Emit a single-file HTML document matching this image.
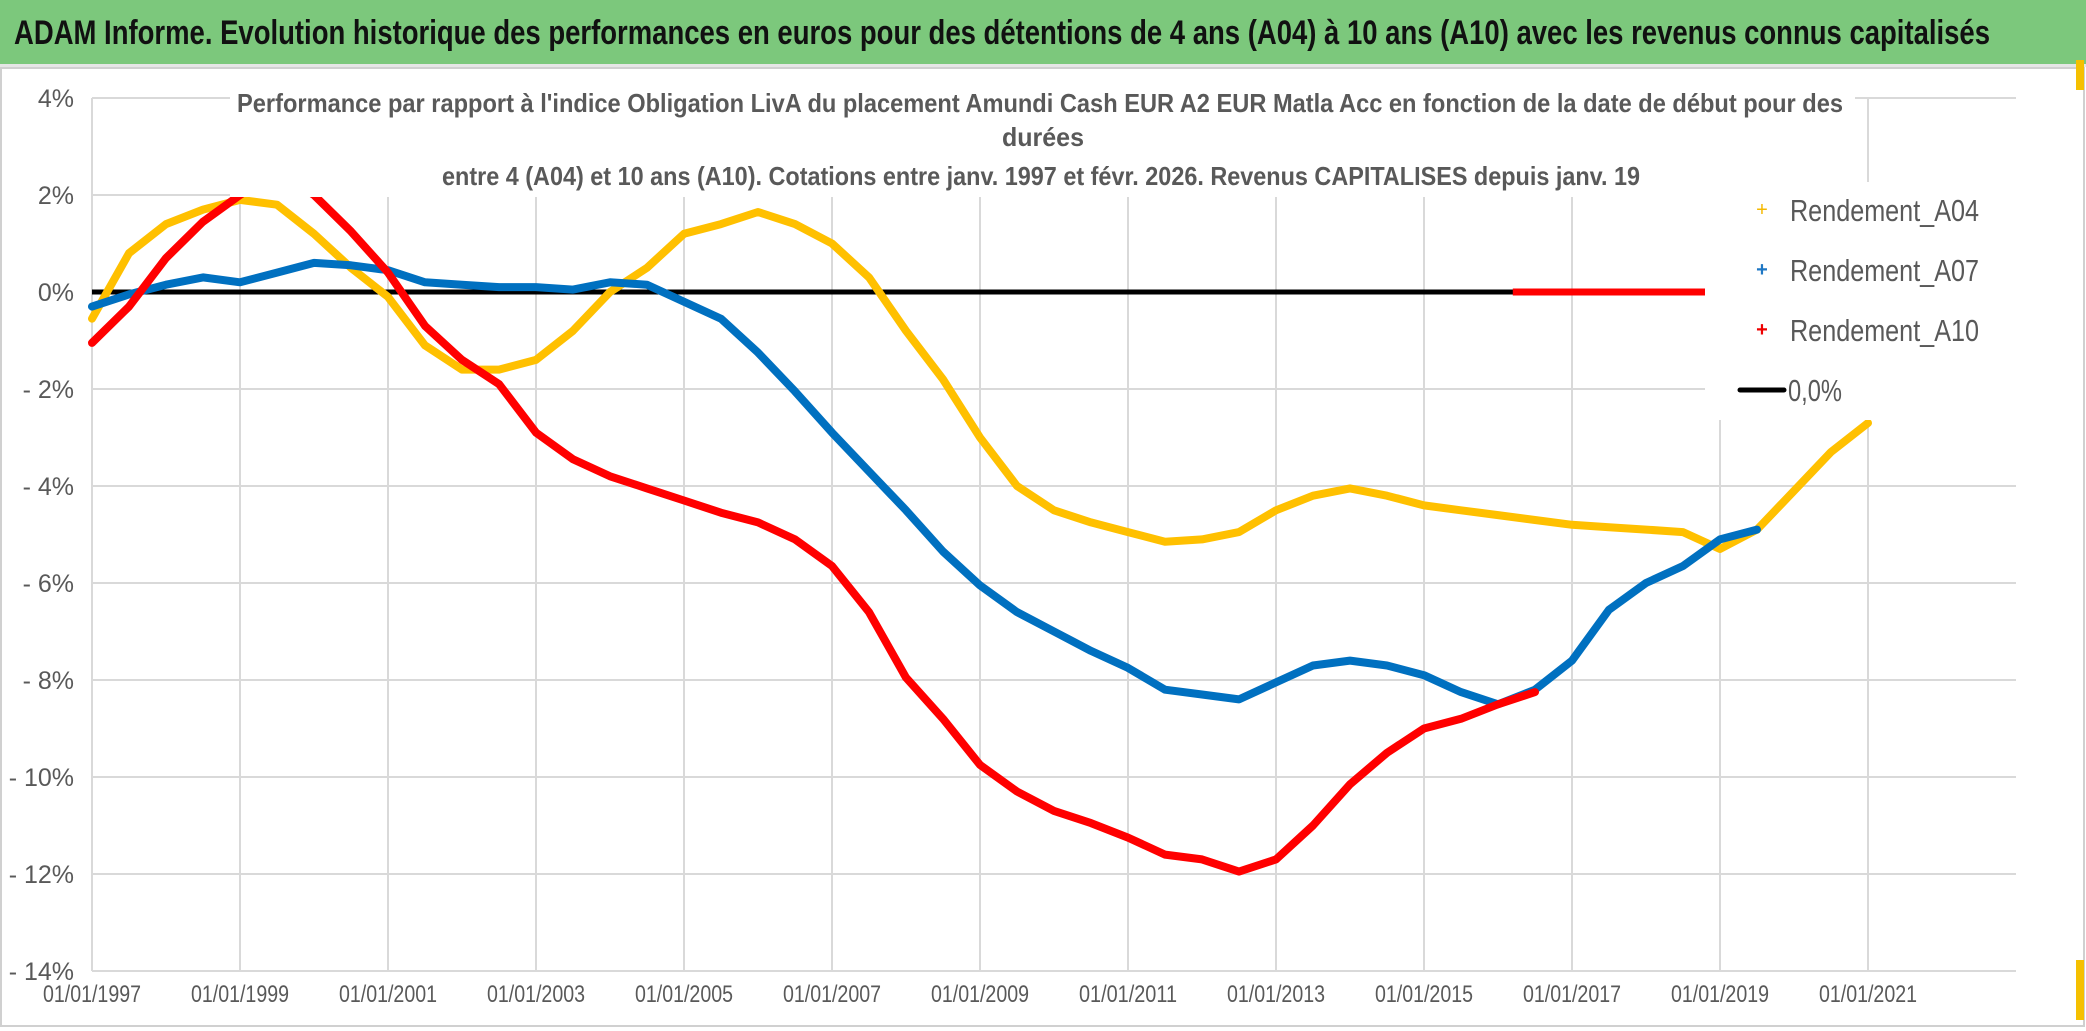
<!DOCTYPE html>
<html><head><meta charset="utf-8"><style>
html,body{margin:0;padding:0;background:#fff;}
svg{display:block;font-family:"Liberation Sans Narrow","Liberation Sans",sans-serif;}
</style></head><body>
<svg id="chart" width="2086" height="1031" viewBox="0 0 2086 1031" xmlns="http://www.w3.org/2000/svg">
<rect x="0" y="0" width="2086" height="1031" fill="#fff"/>
<rect x="0" y="0" width="2086" height="66" fill="#7cc87c"/>
<rect x="0" y="64" width="2086" height="3" fill="#e6e6e6"/>
<rect x="1" y="68" width="2083" height="958" fill="none" stroke="#d0d0d0" stroke-width="2"/>
<rect x="2076" y="60" width="8" height="30" fill="#f5c000"/>
<rect x="2076" y="960" width="8" height="60" fill="#f5c000"/>
<text x="14" y="44" font-size="34" font-weight="bold" fill="#111" textLength="1976" lengthAdjust="spacingAndGlyphs">ADAM Informe. Evolution historique des performances en euros pour des détentions de 4 ans (A04) à 10 ans (A10) avec les revenus connus capitalisés</text>
<g id="grid"></g>
<g id="axes"></g>
<g id="series"></g>
<rect x="230" y="80" width="1625" height="117" fill="#fff"/>
<g fill="#595959" font-weight="bold" font-size="26">
<text x="237" y="112" textLength="1606" lengthAdjust="spacingAndGlyphs">Performance par rapport à l'indice Obligation LivA  du placement Amundi Cash EUR A2 EUR Matla Acc en fonction de la date de début pour des</text>
<text x="1002" y="146" textLength="82" lengthAdjust="spacingAndGlyphs">durées</text>
<text x="442" y="185" textLength="1198" lengthAdjust="spacingAndGlyphs">entre 4 (A04) et 10 ans (A10). Cotations entre janv. 1997 et févr. 2026. Revenus CAPITALISES depuis janv. 19</text>
</g>
<g>
<rect x="1705" y="182" width="316" height="238" fill="#fff"/>
<g>
<text x="1762" y="216" font-size="20" fill="#f5b800" text-anchor="middle">+</text>
<text x="1790" y="221" font-size="31" fill="#595959" textLength="189" lengthAdjust="spacingAndGlyphs">Rendement_A04</text></g>
<g>
<text x="1762" y="276" font-size="20" fill="#1f77c4" font-weight="bold" text-anchor="middle">+</text>
<text x="1790" y="281" font-size="31" fill="#595959" textLength="189" lengthAdjust="spacingAndGlyphs">Rendement_A07</text></g>
<g>
<text x="1762" y="336" font-size="20" fill="#e00" font-weight="bold" text-anchor="middle">+</text>
<text x="1790" y="341" font-size="31" fill="#595959" textLength="189" lengthAdjust="spacingAndGlyphs">Rendement_A10</text></g>
<g>
<line x1="1740" y1="390" x2="1784" y2="390" stroke="#000" stroke-width="5" stroke-linecap="round"/>
<text x="1788" y="401" font-size="31" fill="#595959" textLength="54" lengthAdjust="spacingAndGlyphs">0,0%</text></g>
</g>
</svg>
<script>
const yTicks = [4, 2, 0, -2, -4, -6, -8, -10, -12, -14];
const yTickLabels = ['4%', '2%', '0%', '- 2%', '- 4%', '- 6%', '- 8%', '- 10%', '- 12%', '- 14%'];
const xTickYears = [1997, 1999, 2001, 2003, 2005, 2007, 2009, 2011, 2013, 2015, 2017, 2019, 2021];
const xTickLabels = ['01/01/1997','01/01/1999','01/01/2001','01/01/2003','01/01/2005','01/01/2007','01/01/2009','01/01/2011','01/01/2013','01/01/2015','01/01/2017','01/01/2019','01/01/2021'];
const dates = [1997,1997.5,1998,1998.5,1999,1999.5,2000,2000.5,2001,2001.5,2002,2002.5,2003,2003.5,2004,2004.5,2005,2005.5,2006,2006.5,2007,2007.5,2008,2008.5,2009,2009.5,2010,2010.5,2011,2011.5,2012,2012.5,2013,2013.5,2014,2014.5,2015,2015.5,2016,2016.5,2017,2017.5,2018,2018.5,2019,2019.5,2020,2020.5,2021];
const a04 = [-0.55,0.8,1.4,1.7,1.9,1.8,1.2,0.5,-0.1,-1.1,-1.6,-1.6,-1.4,-0.8,0,0.5,1.2,1.4,1.65,1.4,1.0,0.3,-0.8,-1.8,-3.0,-4.0,-4.5,-4.75,-4.95,-5.15,-5.1,-4.95,-4.5,-4.2,-4.05,-4.2,-4.4,-4.5,-4.6,-4.7,-4.8,-4.85,-4.9,-4.95,-5.3,-4.9,-4.1,-3.3,-2.7];
const a07 = [-0.3,-0.05,0.15,0.3,0.2,0.4,0.6,0.55,0.45,0.2,0.15,0.1,0.1,0.05,0.2,0.15,-0.2,-0.55,-1.25,-2.05,-2.9,-3.7,-4.5,-5.35,-6.05,-6.6,-7.0,-7.4,-7.75,-8.2,-8.3,-8.4,-8.05,-7.7,-7.6,-7.7,-7.9,-8.25,-8.5,-8.2,-7.6,-6.55,-6.0,-5.65,-5.1,-4.9];
const a10 = [-1.05,-0.3,0.7,1.45,2.0,2.5,2.0,1.25,0.4,-0.7,-1.4,-1.9,-2.9,-3.45,-3.8,-4.05,-4.3,-4.55,-4.75,-5.1,-5.65,-6.6,-7.95,-8.8,-9.75,-10.3,-10.7,-10.95,-11.25,-11.6,-11.7,-11.95,-11.7,-11.0,-10.15,-9.5,-9.0,-8.8,-8.5,-8.25];
const a10ZeroStart = 2016.2, a10ZeroEnd = 2018.8, a10LastDot = 2023.0;

const X0 = 92, PX_YR = 74, Y0 = 292, PX_PCT = 48.5, XR = 2016;
const xs = yr => X0 + (yr - 1997) * PX_YR;
const ys = v => Y0 - v * PX_PCT;
const NS = 'http://www.w3.org/2000/svg';
function mk(tag, attrs, parent) {
  const e = document.createElementNS(NS, tag);
  for (const k in attrs) e.setAttribute(k, attrs[k]);
  parent.appendChild(e); return e;
}
const grid = document.getElementById('grid'), axes = document.getElementById('axes'), series = document.getElementById('series');
yTicks.forEach((v, i) => {
  const l = mk('line', {x1: X0, x2: XR, y1: ys(v), y2: ys(v), stroke: '#d9d9d9', 'stroke-width': 2}, grid);
  
  
  const t = mk('text', {x: 74, y: ys(v) + 9, 'text-anchor': 'end', 'font-size': 25, fill: '#595959'}, axes);
  t.textContent = yTickLabels[i];
  
  
});
xTickYears.forEach((yr, i) => {
  const l = mk('line', {x1: xs(yr), x2: xs(yr), y1: ys(4), y2: ys(-14), stroke: '#d9d9d9', 'stroke-width': 2}, grid);
  
  
  const t = mk('text', {x: xs(yr) - 49, y: 1002, 'font-size': 24, fill: '#595959', textLength: 98, lengthAdjust: 'spacingAndGlyphs'}, axes);
  t.textContent = xTickLabels[i];
  
  
});
const zl = mk('line', {x1: X0, x2: xs(a10ZeroEnd), y1: ys(0), y2: ys(0), stroke: '#000', 'stroke-width': 5}, series);


function drawSeries(vals, color, name) {
  const pts = vals.map((v, i) => xs(dates[i]).toFixed(1) + ',' + ys(v).toFixed(1)).join(' ');
  const p = mk('polyline', {points: pts, fill: 'none', stroke: color, 'stroke-width': 8, 'stroke-linejoin': 'round', 'stroke-linecap': 'round'}, series);
  
  
}
drawSeries(a04, '#ffc000', 'series-a04');
drawSeries(a07, '#0070c0', 'series-a07');
drawSeries(a10, '#ff0000', 'series-a10');
const rz = mk('line', {x1: xs(a10ZeroStart), x2: xs(a10ZeroEnd), y1: ys(0), y2: ys(0), stroke: '#ff0000', 'stroke-width': 7}, series);


const rd = mk('rect', {x: xs(a10LastDot) - 2, y: ys(0) - 4, width: 5, height: 8, fill: '#ff0000'}, series);


</script>
</body></html>
